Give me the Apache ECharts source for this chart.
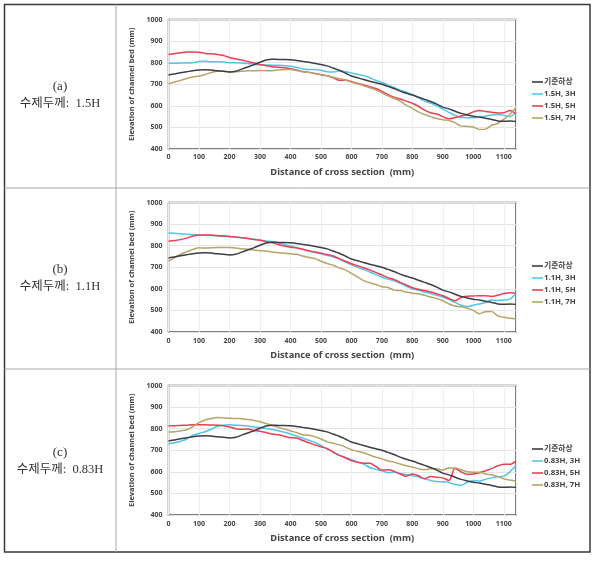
<!DOCTYPE html>
<html>
<head>
<meta charset="utf-8">
<script src="https://cdn.jsdelivr.net/npm/echarts@6/dist/echarts.min.js"></script>
<style>
html,body{margin:0;padding:0;background:#fff;}
#c{width:600px;height:561px;}
</style>
</head>
<body>
<div id="c"></div>
<script>
// Distance of cross section (mm)
const xs = [0,20,40,60,80,100,120,140,160,180,200,220,240,260,280,300,320,340,360,380,400,420,440,460,480,500,520,540,560,580,600,620,640,660,680,700,720,740,760,780,800,820,840,860,880,900,920,940,960,980,1000,1020,1040,1060,1080,1100,1120,1140];
const xTicks = [0,100,200,300,400,500,600,700,800,900,1000,1100];
const yTicks = [400,500,600,700,800,900,1000];

const rowLabels = ['(a)','(b)','(c)'];
const rowTexts = ['수제두께:  1.5H','수제두께:  1.1H','수제두께:  0.83H'];
const baseName = '기준하상';
const namesA = ['1.5H, 3H','1.5H, 5H','1.5H, 7H'];
const namesB = ['1.1H, 3H','1.1H, 5H','1.1H, 7H'];
const namesC = ['0.83H, 3H','0.83H, 5H','0.83H, 7H'];

// reference bed (same in all panels)
const base = [743,748,753,758,763,766,767,766,762,760,757,760,770,780,790,802,812,816,815,815,813,810,806,802,797,792,785,775,765,752,738,730,722,714,707,700,690,680,668,658,650,640,630,620,608,594,586,575,565,558,552,548,542,537,530,528,530,528];

// (a) 1.5H
const a3 = [797,797,798,798,800,805,806,804,804,803,800,800,798,796,793,790,789,788,788,786,783,778,772,768,768,765,758,757,762,758,752,746,740,730,718,708,697,685,673,663,652,638,622,613,600,585,570,556,547,545,545,547,552,558,560,556,550,572];
const a5 = [838,842,846,849,850,848,843,841,838,833,824,818,812,805,798,792,786,781,779,776,772,766,759,755,750,744,739,730,718,720,712,705,697,689,680,667,652,640,632,622,612,598,580,568,562,550,540,546,553,560,572,578,574,570,567,568,578,563];
const a7 = [702,710,718,727,734,738,745,754,760,760,757,758,760,762,762,764,763,763,766,768,768,764,758,755,750,745,740,732,726,720,710,702,693,684,674,660,646,635,622,603,588,572,560,550,541,536,532,522,506,505,502,490,492,510,518,538,560,592];

// (b) 1.1H
const b3 = [860,857,855,853,851,849,848,847,845,843,842,840,837,834,830,826,822,818,814,806,798,792,783,776,768,762,755,748,738,725,712,700,690,678,666,654,645,637,625,612,600,593,585,578,570,562,550,537,524,518,524,530,537,548,546,548,552,578];
const b5 = [821,824,828,835,845,849,850,849,847,845,843,840,837,833,829,825,818,813,805,798,793,789,783,776,771,765,759,752,740,728,716,707,698,688,676,664,652,643,630,618,605,598,592,585,577,568,555,545,560,566,567,568,568,565,570,578,582,580];
const b7 = [728,745,760,772,782,790,789,790,792,792,791,789,786,783,780,777,775,771,767,765,762,760,752,746,740,728,717,709,697,688,672,655,638,628,620,610,606,594,592,585,580,577,570,562,555,545,530,520,517,510,500,485,494,495,475,468,464,460];

// (c) 0.83H
const c3 = [730,735,742,752,770,778,786,797,810,816,818,816,815,812,808,805,801,796,790,783,775,766,756,746,736,722,706,692,678,667,656,645,636,620,612,605,596,598,592,588,582,576,568,560,555,554,551,541,538,552,560,557,565,572,577,580,600,630];
const c5 = [813,814,815,816,818,818,818,817,816,814,808,800,797,798,792,788,782,775,772,765,758,757,745,735,725,716,708,692,676,665,652,645,640,640,625,608,610,602,590,580,590,582,568,578,575,572,560,615,600,588,590,596,605,615,628,635,635,650];
const c7 = [785,786,790,795,810,828,840,847,852,850,848,847,846,842,838,832,824,815,806,798,790,782,772,770,763,752,740,732,726,715,702,695,688,678,668,660,650,645,636,628,622,614,610,614,614,608,618,618,610,600,598,598,590,586,578,568,562,556];

const colors = ['#3d3d48','#4fc6ea','#ee3f52','#b7a468'];
const panels = [
  {names: namesA, data: [a3,a5,a7], top: 19.5, legendTop: 72},
  {names: namesB, data: [b3,b5,b7], top: 202.5, legendTop: 256},
  {names: namesC, data: [c3,c5,c7], top: 385.5, legendTop: 439}
];

const latin = '"Noto Sans", "Noto Sans CJK KR", sans-serif';
const serif = '"Liberation Serif", "DejaVu Serif", "Noto Sans CJK KR", serif';
const pair = arr => xs.map((x,i) => [x, arr[i]]);

const grids = [], xAxes = [], yAxes = [], series = [], legends = [];
panels.forEach((p, k) => {
  grids.push({left: 168.5, top: p.top, width: 347.5, height: 129.5, show: true,
    borderColor: '#555', borderWidth: 1.5, backgroundColor: 'transparent', containLabel: false});
  xAxes.push({type: 'value', gridIndex: k, min: 0, max: 1140, interval: 100,
    name: 'Distance of cross section  (mm)', nameLocation: 'middle', nameGap: 19,
    nameTextStyle: {fontFamily: latin, fontSize: 9.3, fontWeight: 'bold', color: '#444'},
    axisLine: {show: false}, axisTick: {show: false},
    axisLabel: {fontFamily: latin, fontSize: 7, fontWeight: 'bold', color: '#444', margin: 5, showMaxLabel: false,
      formatter: v => xTicks.indexOf(v) >= 0 ? String(v) : ''},
    splitLine: {show: true, lineStyle: {color: '#eeeeee', width: 1}}});
  yAxes.push({type: 'value', gridIndex: k, min: 400, max: 1000, interval: 100,
    name: 'Elevation of channel bed (mm)', nameLocation: 'middle', nameGap: 25,
    nameTextStyle: {fontFamily: latin, fontSize: 7.5, fontWeight: 'bold', color: '#444'},
    axisLine: {show: false}, axisTick: {show: false},
    axisLabel: {fontFamily: latin, fontSize: 7, fontWeight: 'bold', color: '#444', margin: 6,
      formatter: v => yTicks.indexOf(v) >= 0 ? String(v) : ''},
    splitLine: {show: true, lineStyle: {color: '#e4e4e4', width: 1}}});
  const all = [base].concat(p.data);
  const nms = [baseName].concat(p.names);
  all.forEach((arr, j) => {
    series.push({type: 'line', name: nms[j], xAxisIndex: k, yAxisIndex: k,
      data: pair(arr), showSymbol: false, symbol: 'none', smooth: 0.3,
      lineStyle: {color: colors[j], width: 1.5}, itemStyle: {color: colors[j]},
      z: j === 0 ? 5 : 3, animation: false});
  });
  legends.push({orient: 'vertical', left: 527, top: p.legendTop, data: nms,
    icon: 'rect', itemWidth: 11, itemHeight: 1.6, itemGap: 2,
    textStyle: {fontFamily: latin, fontSize: 7.8, fontWeight: 'bold', color: '#444', lineHeight: 10, padding: [0,0,0,-4]},
    selectedMode: false});
});

// table frame and left labels
const graphic = [
  {type: 'rect', shape: {x: 4.5, y: 4.5, width: 585.5, height: 547.5}, style: {fill: 'none', stroke: '#3a3a3a', lineWidth: 1.5}, z: 10},
  {type: 'line', shape: {x1: 116, y1: 4.5, x2: 116, y2: 552}, style: {stroke: '#a8a8a8', lineWidth: 1}, z: 10},
  {type: 'line', shape: {x1: 4.5, y1: 188, x2: 590, y2: 188}, style: {stroke: '#a8a8a8', lineWidth: 1}, z: 10},
  {type: 'line', shape: {x1: 4.5, y1: 369, x2: 590, y2: 369}, style: {stroke: '#a8a8a8', lineWidth: 1}, z: 10}
];
const labelY = [[87, 104], [270, 287], [453, 470]];
rowLabels.forEach((t, i) => {
  graphic.push({type: 'text', x: 60, y: labelY[i][0], style: {text: t, fontFamily: serif, fontSize: 13, fill: '#333', align: 'center', verticalAlign: 'middle'}, z: 10});
  graphic.push({type: 'text', x: 60, y: labelY[i][1], style: {text: rowTexts[i], fontFamily: serif, fontSize: 12.5, fill: '#333', align: 'center', verticalAlign: 'middle'}, z: 10});
});

const chart = echarts.init(document.getElementById('c'), null, {renderer: 'canvas'});
chart.setOption({
  backgroundColor: '#ffffff',
  animation: false,
  grid: grids, xAxis: xAxes, yAxis: yAxes, series: series, legend: legends,
  graphic: graphic
});
</script>
</body>
</html>
